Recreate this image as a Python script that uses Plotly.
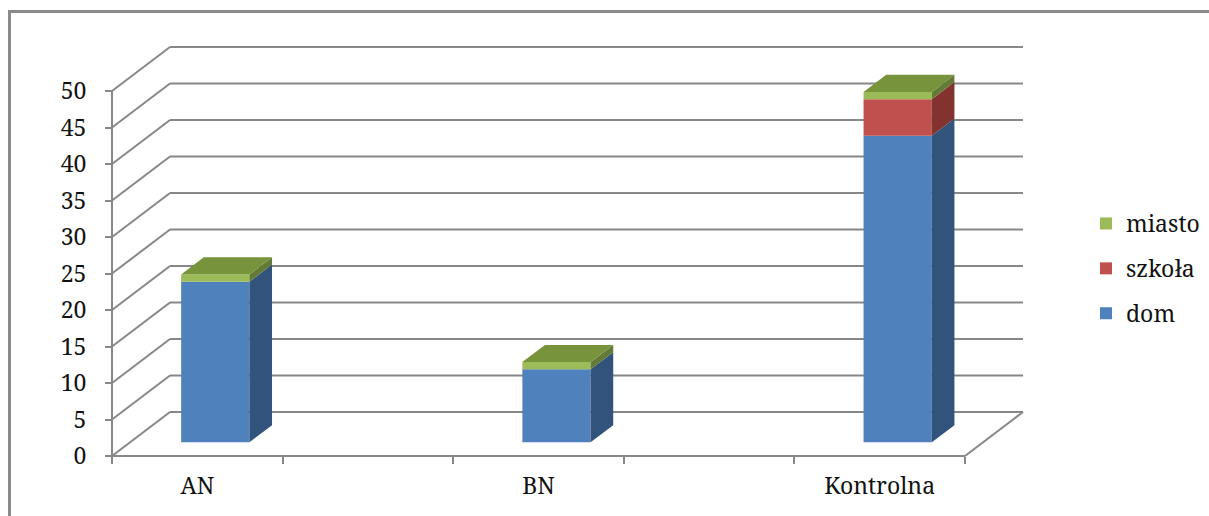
import plotly.graph_objects as go

# ---------------- data ----------------
categories = ["AN", "BN", "Kontrolna"]
cat_pos = [0.5, 2.5, 4.5]          # centres of the category slots
slot_ticks = [0, 1, 2, 3, 4, 5]    # tick marks on the category axis
dom = [22, 10, 42]
szkola = [0, 0, 5]
miasto = [1, 1, 1]
y_ticks = [0, 5, 10, 15, 20, 25, 30, 35, 40, 45, 50]
y_ticklabels = [str(v) for v in y_ticks]

series_names = ["dom", "szkoła", "miasto"]
series_values = [dom, szkola, miasto]
legend_ranks = [3, 2, 1]
front_colors = ["#4F81BD", "#C0504D", "#9BBB59"]
side_colors = ["#32547C", "#823330", "#647B38"]
top_color = "#77933C"

# ---------------- pseudo-3D geometry (data units) ----------------
PX_SLOT = 170.6      # pixels per category slot
PX_UNIT = 7.3        # pixels per value unit
DX = 58 / PX_SLOT    # wall depth in x
DY = 44 / PX_UNIT    # wall depth in y
FRONT = 0.31         # depth fraction of bar front face
BDEPTH = 0.39        # bar depth fraction
BAR_W = 0.4
fx, fy = FRONT * DX, FRONT * DY
bx, by = BDEPTH * DX, BDEPTH * DY
N_SLOTS = slot_ticks[-1]

GRID = "#878787"

# plot-area placement (pixels)
L, R, T, B = 95, 1200, 28, 470
X0_PX, Y0_PX = 112, 456
xrange = [(L - X0_PX) / PX_SLOT, (R - X0_PX) / PX_SLOT]
yrange = [(Y0_PX - B) / PX_UNIT, (Y0_PX - T) / PX_UNIT]

fig = go.Figure()

# front faces = real bars
bases = [0.0] * len(categories)
segments = []
for name, vals, fc, rk in zip(series_names, series_values, front_colors, legend_ranks):
    fig.add_trace(go.Bar(
        x=[c + fx for c in cat_pos], y=vals,
        base=[b + fy for b in bases], width=BAR_W,
        marker=dict(color=fc, line=dict(width=0)),
        name=name, legendgroup=name, legendrank=rk, showlegend=True, hoverinfo="skip",
    ))
    segments.append([(b, b + v) for b, v in zip(bases, vals)])
    bases = [b + v for b, v in zip(bases, vals)]

# side faces
for si, (name, segs) in enumerate(zip(series_names, segments)):
    xs, ys = [], []
    for c, (b0, b1) in zip(cat_pos, segs):
        if b1 - b0 <= 0:
            continue
        xr = c + fx + BAR_W / 2
        xs += [xr, xr + bx, xr + bx, xr, xr, None]
        ys += [b0 + fy, b0 + fy + by, b1 + fy + by, b1 + fy, b0 + fy, None]
    fig.add_trace(go.Scatter(x=xs, y=ys, mode="lines", fill="toself",
                             fillcolor=side_colors[si], line=dict(width=0, color=side_colors[si]),
                             showlegend=False, hoverinfo="skip"))

# top faces
xs, ys = [], []
for c, top in zip(cat_pos, bases):
    xl = c + fx - BAR_W / 2
    xr = c + fx + BAR_W / 2
    t = top + fy
    xs += [xl, xl + bx, xr + bx, xr, xl, None]
    ys += [t, t + by, t + by, t, t, None]
fig.add_trace(go.Scatter(x=xs, y=ys, mode="lines", fill="toself",
                         fillcolor=top_color, line=dict(width=0, color=top_color),
                         showlegend=False, hoverinfo="skip"))

# walls, grid and axis lines
shapes = []
ln = dict(color=GRID, width=2)
for v in y_ticks:
    shapes.append(dict(type="line", xref="x", yref="y", x0=0, y0=v, x1=DX, y1=v + DY, line=ln, layer="below"))
    shapes.append(dict(type="line", xref="x", yref="y", x0=DX, y0=v + DY, x1=N_SLOTS + DX, y1=v + DY, line=ln, layer="below"))
shapes.append(dict(type="line", xref="x", yref="y", x0=0, y0=0, x1=N_SLOTS, y1=0, line=ln, layer="below"))
shapes.append(dict(type="line", xref="x", yref="y", x0=N_SLOTS, y0=0, x1=N_SLOTS + DX, y1=DY, line=ln, layer="below"))
shapes.append(dict(type="line", xref="x", yref="y", x0=0, y0=0, x1=0, y1=y_ticks[-1], line=ln, layer="below"))

# chart-area frame
W, H = 1209, 516
pw, ph = R - L, B - T
shapes.append(dict(type="rect", xref="paper", yref="paper",
                   x0=(9.5 - L) / pw, x1=(1230 - L) / pw,
                   y0=(B - 540) / ph, y1=(B - 11.5) / ph,
                   line=dict(color="#8A8A8A", width=3), layer="below"))

font = dict(family="Noto Serif", size=23, color="#111111")

fig.update_layout(
    width=W, height=H,
    margin=dict(l=L, r=W - R, t=T, b=H - B, pad=0, autoexpand=False),
    paper_bgcolor="white", plot_bgcolor="white",
    barmode="overlay",
    font=font,
    shapes=shapes,
    showlegend=True,
    legend=dict(x=(1086 - L) / pw, y=(B - 202) / ph, xanchor="left", yanchor="top",
                traceorder="grouped", tracegroupgap=12,
                font=font, bgcolor="rgba(0,0,0,0)"),
    xaxis=dict(range=xrange, anchor="free", position=(B - Y0_PX) / ph,
               showgrid=False, zeroline=False, showline=False,
               tickmode="array", tickvals=cat_pos, ticktext=categories,
               ticks="", ticklabelstandoff=14, tickfont=font,
               minor=dict(tickmode="array", tickvals=slot_ticks, ticks="outside",
                          ticklen=7, tickwidth=2, tickcolor=GRID, showgrid=False),
               fixedrange=True),
    yaxis=dict(range=yrange, anchor="free", position=(X0_PX - L) / pw,
               showgrid=False, zeroline=False, showline=False,
               tickmode="array", tickvals=y_ticks, ticktext=y_ticklabels,
               ticks="outside", ticklen=7, tickwidth=2, tickcolor=GRID,
               ticklabelstandoff=14, tickfont=font, fixedrange=True),
)

fig.write_html("out.html")
